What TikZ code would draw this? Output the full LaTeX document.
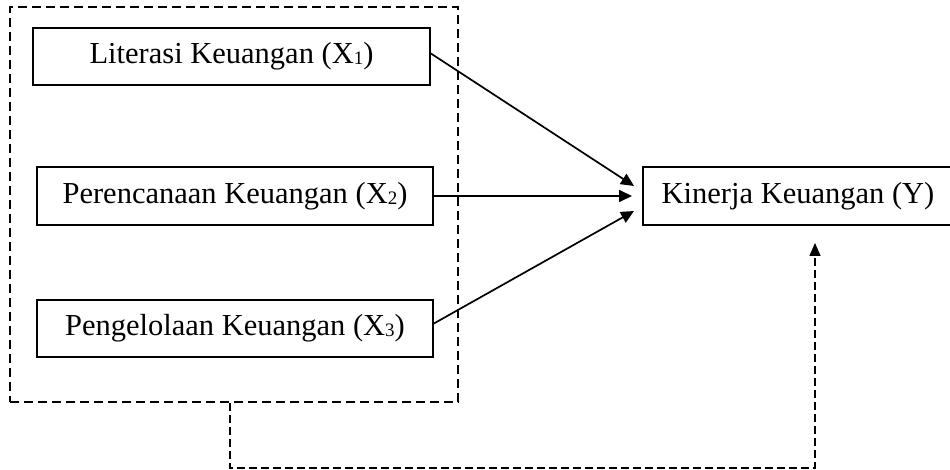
\documentclass[tikz,border=0pt]{standalone}
\usepackage{fontspec}
\setmainfont{Liberation Serif}
\usetikzlibrary{arrows.meta}
\newcommand{\subdig}[1]{\raisebox{-1pt}{\fontsize{19}{20}\selectfont #1}}
\begin{document}
\begin{tikzpicture}[x=1pt,y=-1pt,
  varbox/.style={draw, line width=1.8pt, inner sep=0pt, font=\fontsize{30.5}{34}\selectfont},
  grpbox/.style={draw, line width=1.6pt, dash pattern=on 9pt off 5pt, inner sep=0pt},
  arr/.style={line width=1.7pt, -{Triangle[length=13pt,width=12pt]}},
  darr/.style={line width=1.6pt, dash pattern=on 8pt off 4pt, -{Triangle[length=13pt,width=11pt]}}]
\useasboundingbox (0,0) rectangle (950,470);
\node[grpbox, minimum width=448pt, minimum height=395pt] (grp) at (234,204.5) {};
\node[varbox, minimum width=397pt, minimum height=57pt] (x1) at (231.5,56.5) {Literasi Keuangan (X\subdig{1})};
\node[varbox, minimum width=396pt, minimum height=58pt] (x2) at (235,196) {Perencanaan Keuangan (X\subdig{2})};
\node[varbox, minimum width=396pt, minimum height=57pt] (x3) at (235,328.5) {Pengelolaan Keuangan (X\subdig{3})};
\node[varbox, minimum width=310pt, minimum height=58pt] (y) at (798,196) {Kinerja Keuangan (Y)};
\coordinate (t1) at (634,186);
\coordinate (t2) at (632,196);
\coordinate (t3) at (634,211);
\coordinate (c1) at (230,468);
\coordinate (c2) at (815,468);
\coordinate (ytip) at (815,243);
\draw[arr] ([yshift=3pt]x1.east) -- (t1);
\draw[arr] (x2.east) -- (t2);
\draw[arr] ([yshift=5pt]x3.east) -- (t3);
\draw[darr] (grp.south -| c1) -- (c1) -- (c2) -- (ytip);
\end{tikzpicture}
\end{document}
